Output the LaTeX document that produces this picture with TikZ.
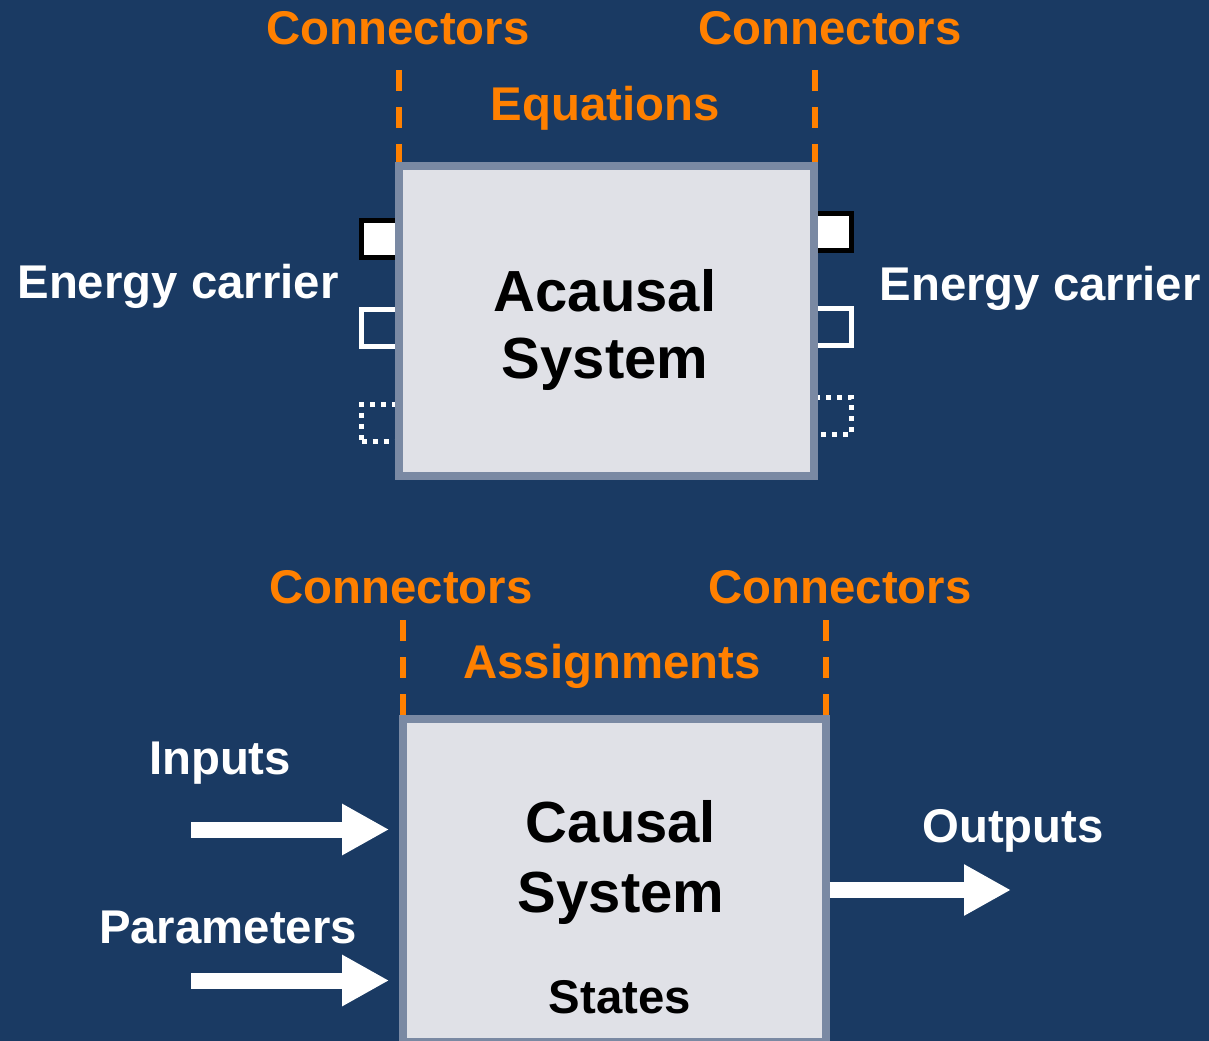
\documentclass[tikz,border=0pt]{standalone}
\usepackage{fontspec}
\setmainfont{Liberation Sans}
\usetikzlibrary{arrows.meta}
\definecolor{bgblue}{HTML}{1A3A63}
\definecolor{accent}{HTML}{FF8000}
\definecolor{boxfill}{HTML}{E0E1E7}
\definecolor{boxedge}{HTML}{7A89A3}
\tikzset{
  lab/.style={anchor=base,inner sep=0pt,font=\fontsize{35.5}{42}\selectfont\bfseries},
  orangelab/.style={lab,text=accent},
  whitelab/.style={lab,text=white},
  blacklab/.style={lab,text=black},
  bigtitle/.style={anchor=base,inner sep=0pt,text=black,font=\fontsize{43.5}{52}\selectfont\bfseries},
  sysbox/.style={draw=boxedge,fill=boxfill,line width=6pt,inner sep=0pt},
  guide/.style={draw=accent,line width=4.5pt,dash pattern=on 15.75pt off 12pt},
  portsolid/.style={draw=black,fill=white,line width=3.75pt,inner sep=0pt,minimum height=27.75pt},
  portopen/.style={draw=white,line width=3.75pt,inner sep=0pt,minimum height=27.75pt},
  portdotted/.style={draw=white,line width=3.75pt,dash pattern=on 3.75pt off 4.5pt,inner sep=0pt,minimum height=27.75pt},
  flow/.style={draw=white,line width=12pt,-{Triangle[length=35.25pt,width=36pt]},white}
}
\begin{document}
\begin{tikzpicture}[x=0.75pt,y=-0.75pt]
\useasboundingbox (0,0) rectangle (1209,1041);
\fill[bgblue] (0,0) rectangle (1209,1041);
\clip (0,0) rectangle (1209,1041);

% ---------- acausal part ----------
% ports sit partly under the box
\node[portsolid,minimum width=36.4pt]  (pL1) at (385.8,239)   {};
\node[portopen,minimum width=36.4pt]   (pL2) at (385.8,327.5) {};
\node[portdotted,minimum width=36.4pt] (pL3) at (385.8,422.5) {};
\node[portsolid,minimum width=31pt]    (pR1) at (831,232)     {};
\node[portopen,minimum width=31pt]     (pR2) at (831,327)     {};
\node[portdotted,minimum width=31pt]   (pR3) at (831,416)     {};

\coordinate (gTL) at (399,70);
\coordinate (gTR) at (814.5,70);
\node[sysbox,minimum width=311.6pt,minimum height=231.75pt] (acausal) at (606.75,321) {};
\path[guide] (gTL) -- (gTL |- acausal.north);
\path[guide] (gTR) -- (gTR |- acausal.north);
% box drawn again so the guides end under its frame
\node[sysbox,minimum width=311.6pt,minimum height=231.75pt] at (acausal) {};

\node[orangelab] (conTL) at (398,45) {Connectors};
\node[orangelab] (conTR) at (830,45) {Connectors};
\node[orangelab] (eqs) at (605,121) {Equations};
\node[whitelab] (ecL) at (178,298) {Energy carrier};
\node[whitelab] (ecR) at (1040,300) {Energy carrier};
\node[bigtitle] (acT1) at (605,311) {Acausal};
\node[bigtitle] (acT2) at (605,378) {System};

% ---------- causal part ----------
\coordinate (gBL) at (402.5,620);
\coordinate (gBR) at (825.5,620);
\node[sysbox,minimum width=317.25pt,minimum height=242.25pt] (causal) at (614,880.5) {};
\path[guide] (gBL) -- (gBL |- causal.north);
\path[guide] (gBR) -- (gBR |- causal.north);
\node[sysbox,minimum width=317.25pt,minimum height=242.25pt] at (causal) {};

\node[orangelab] (conBL) at (401,603) {Connectors};
\node[orangelab] (conBR) at (840,603) {Connectors};
\node[orangelab] (asg) at (612,678) {Assignments};
\node[whitelab] (inp) at (220,774) {Inputs};
\node[whitelab] (par) at (228,943) {Parameters};
\node[whitelab] (outp) at (1013,842) {Outputs};
\node[bigtitle] (caT1) at (621,842) {Causal};
\node[bigtitle] (caT2) at (621,912) {System};
\node[blacklab] (st) at (620,1013) {States};

% signal arrows
\coordinate (inS) at (191,829.5);
\coordinate (parS) at (191,980.5);
\coordinate (outE) at (1011,890);
\draw[flow,shorten >=7pt] (inS) -- (inS -| causal.west);
\draw[flow,shorten >=7pt] (parS) -- (parS -| causal.west);
\draw[flow] (outE -| causal.east) -- (outE);
\end{tikzpicture}
\end{document}
